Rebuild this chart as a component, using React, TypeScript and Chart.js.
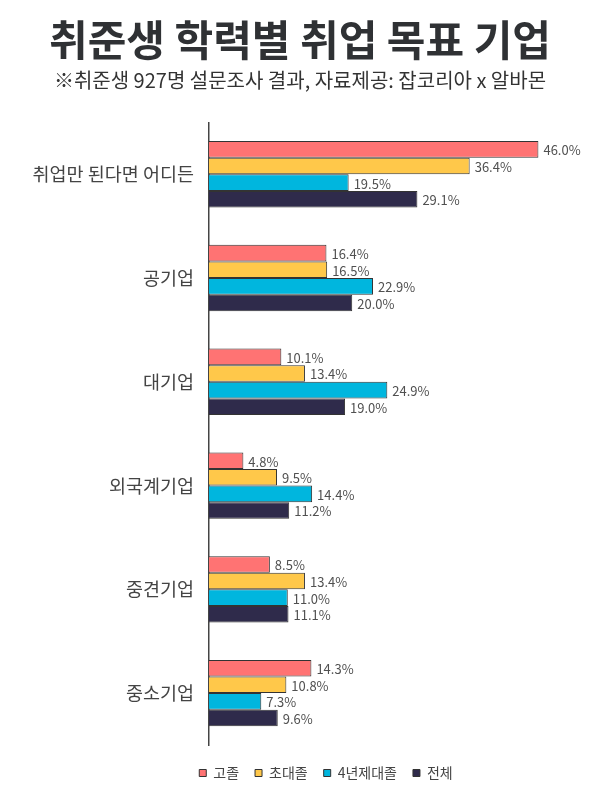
import React, { useEffect, useRef } from "react";
import { Chart, registerables } from "chart.js";

Chart.register(...registerables);

const categories = ["취업만 된다면 어디든", "공기업", "대기업", "외국계기업", "중견기업", "중소기업"];
const seriesNames = ["고졸", "초대졸", "4년제대졸", "전체"];
const highSchool = [46.0, 16.4, 10.1, 4.8, 8.5, 14.3];
const college = [36.4, 16.5, 13.4, 9.5, 13.4, 10.8];
const university = [19.5, 22.9, 24.9, 14.4, 11.0, 7.3];
const total = [29.1, 20.0, 19.0, 11.2, 11.1, 9.6];
const colors = ["#FF7373", "#FFC84A", "#00B6DE", "#2F2B4B"];

const FONT = "'Noto Sans CJK KR', 'Noto Sans', sans-serif";

const valueLabels = {
  id: "valueLabels",
  afterDatasetsDraw(chart: any) {
    const ctx = chart.ctx;
    ctx.save();
    ctx.font = `13px ${FONT}`;
    ctx.fillStyle = "#505050";
    ctx.textAlign = "left";
    ctx.textBaseline = "middle";
    chart.data.datasets.forEach((ds: any, i: number) => {
      const meta = chart.getDatasetMeta(i);
      meta.data.forEach((el: any, j: number) => {
        ctx.fillText(ds.data[j].toFixed(1) + "%", el.x + 5, el.y + 1);
      });
    });
    ctx.restore();
  },
};

const shiftLegend = {
  id: "shiftLegend",
  afterLayout(chart: any) {
    const lg = chart.legend;
    if (!lg) return;
    const dx = 26;
    const dy = 5;
    lg.left += dx;
    lg.right += dx;
    lg.top += dy;
    lg.bottom += dy;
  },
};

export default function App() {
  const ref = useRef<HTMLCanvasElement>(null);
  useEffect(() => {
    const all = [highSchool, college, university, total];
    const chart = new Chart(ref.current!, {
      type: "bar",
      data: {
        labels: categories,
        datasets: all.map((d, i) => ({
          label: seriesNames[i],
          data: d,
          backgroundColor: colors[i],
          borderColor: "#333",
          borderWidth: 1,
          barPercentage: 1,
          categoryPercentage: 0.64,
        })),
      },
      options: {
        indexAxis: "y",
        animation: false,
        responsive: false,
        layout: { padding: { left: 0, right: 0, top: 0, bottom: 25 } },
        plugins: {
          title: {
            display: true,
            text: "취준생 학력별 취업 목표 기업",
            font: { family: FONT, size: 42, weight: "bold" },
            color: "#2f3134",
            padding: { top: 15, bottom: 3 },
          },
          subtitle: {
            display: true,
            text: "※취준생 927명 설문조사 결과, 자료제공: 잡코리아 x 알바몬",
            font: { family: FONT, size: 20 },
            color: "#333",
            padding: { top: 0, bottom: 30 },
          },
          legend: {
            position: "bottom",
            labels: {
              font: { family: FONT, size: 14 },
              color: "#444",
              boxWidth: 7,
              boxHeight: 7,
              padding: 16,
            },
          },
          tooltip: { enabled: false },
        },
        scales: {
          x: {
            display: false,
            min: 0,
            max: 54.6,
          },
          y: {
            grid: { display: false, drawTicks: false },
            border: { display: true, color: "#444", width: 1.5 },
            ticks: {
              font: { family: FONT, size: 18.5 },
              color: "#444",
              padding: 15,
            },
            afterFit(scale: any) {
              scale.width = 209;
            },
          },
        },
      },
      plugins: [valueLabels, shiftLegend],
    });
    return () => chart.destroy();
  }, []);
  return (
    <div style={{ position: "absolute", left: 0, top: 0, width: 600, height: 810, background: "#fff" }}>
      <canvas ref={ref} width={600} height={810} />
    </div>
  );
}
